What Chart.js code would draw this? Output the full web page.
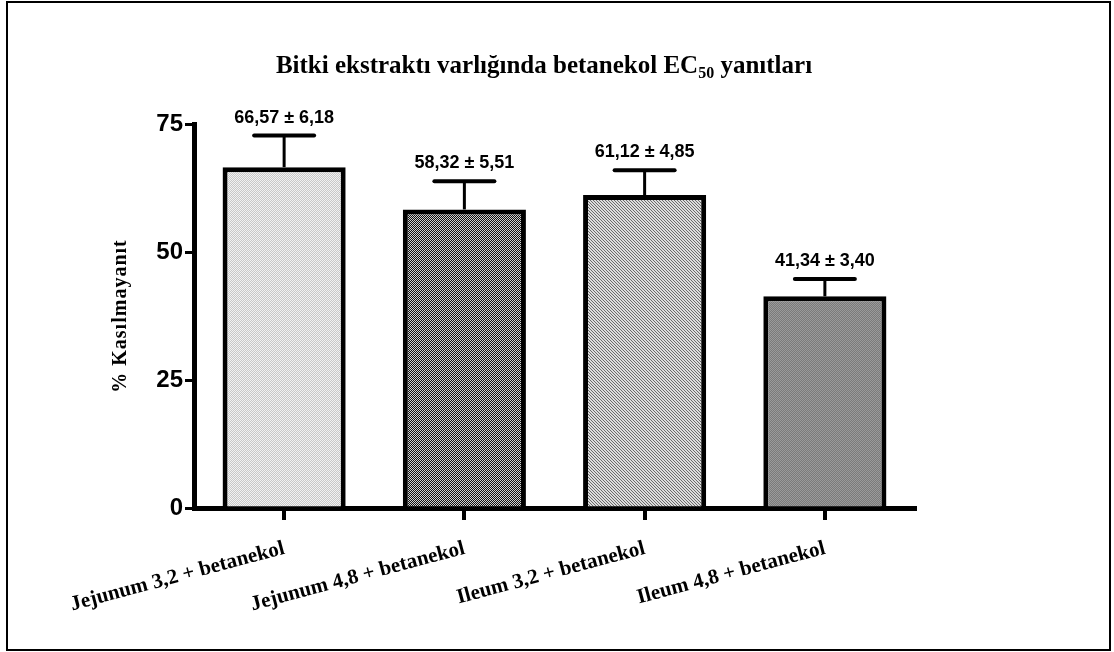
<!DOCTYPE html>
<html>
<head>
<meta charset="utf-8">
<script src="https://cdn.jsdelivr.net/npm/chart.js@4"></script>
<style>
  html, body { margin: 0; padding: 0; background: #fff; }
  #wrap { position: relative; width: 1114px; height: 652px; }
  #frame { position: absolute; left: 6px; top: 1px; width: 1105px; height: 650px;
           border: 2px solid #000; box-sizing: border-box; }
  canvas { position: absolute; left: 0; top: 0; }
</style>
</head>
<body>
<div id="wrap">
  <div id="frame"></div>
  <canvas id="c" width="1114" height="652"></canvas>
</div>
<script>
// Chart text
const titleMain = 'Bitki ekstraktı varlığında betanekol EC';
const titleSub = '50';
const titleEnd = ' yanıtları';
const yAxisTitle = '% Kasılmayanıt';

// Groups, means and SEM
const categories = [
  'Jejunum 3,2 + betanekol',
  'Jejunum 4,8 + betanekol',
  'Ileum 3,2 + betanekol',
  'Ileum 4,8 + betanekol'
];
const means = [66.57, 58.32, 61.12, 41.34];
const sem = [6.18, 5.51, 4.85, 3.40];
const yTicks = [0, 25, 50, 75];

// Small fill textures for the bars
function makePattern(size, painter) {
  const c = document.createElement('canvas');
  c.width = size; c.height = size;
  const g = c.getContext('2d');
  for (let y = 0; y < size; y++) {
    for (let x = 0; x < size; x++) {
      g.fillStyle = painter(x, y);
      g.fillRect(x, y, 1, 1);
    }
  }
  return g.createPattern(c, 'repeat');
}
const ctx = document.getElementById('c').getContext('2d');
const fills = [
  makePattern(2, (x, y) => ((x + y) % 2 ? '#c8c8c8' : '#f2f2f2')),
  makePattern(2, (x, y) => ((x + y) % 2 ? '#111111' : '#d0d0d0')),
  makePattern(3, (x, y) => (((x - y) % 3 + 3) % 3 === 0 ? '#6a6a6a' : '#dcdcdc')),
  makePattern(2, (x, y) => ((x + y) % 2 ? '#7a7a7a' : '#9a9a9a'))
];

const fmt = v => v.toFixed(2).replace('.', ',');

// Title with subscript, y-axis title, error bars and value labels
const decorations = {
  id: 'decorations',
  afterDatasetsDraw(chart) {
    const c = chart.ctx;
    const yScale = chart.scales.y;
    const meta = chart.getDatasetMeta(0);
    c.save();
    c.strokeStyle = '#000';
    c.fillStyle = '#000';
    meta.data.forEach((bar, i) => {
      const x = bar.x;
      const yBar = yScale.getPixelForValue(means[i]);
      const yTop = yScale.getPixelForValue(means[i] + sem[i]);
      c.lineCap = 'butt';
      c.lineWidth = 3;
      c.beginPath(); c.moveTo(x, yBar); c.lineTo(x, yTop); c.stroke();
      c.lineCap = 'round';
      c.lineWidth = 4;
      c.beginPath(); c.moveTo(x - 30, yTop); c.lineTo(x + 30, yTop); c.stroke();
      c.font = 'bold 18px "Liberation Sans", Arial, sans-serif';
      c.textAlign = 'center';
      c.textBaseline = 'alphabetic';
      c.fillText(fmt(means[i]) + ' ± ' + fmt(sem[i]), x, yTop - 13);
    });
    c.restore();
  },
  afterDraw(chart) {
    const c = chart.ctx;
    c.save();
    c.fillStyle = '#000';
    // main title
    const fMain = 'bold 25px "Liberation Serif", "Times New Roman", serif';
    const fSub = 'bold 16px "Liberation Serif", "Times New Roman", serif';
    c.font = fMain;
    const w1 = c.measureText(titleMain).width;
    const w3 = c.measureText(titleEnd).width;
    c.font = fSub;
    const w2 = c.measureText(titleSub).width;
    let x = 544 - (w1 + w2 + w3) / 2;
    const base = 73;
    c.textAlign = 'left';
    c.textBaseline = 'alphabetic';
    c.font = fMain; c.fillText(titleMain, x, base); x += w1;
    c.font = fSub; c.fillText(titleSub, x, base + 5); x += w2;
    c.font = fMain; c.fillText(titleEnd, x, base);
    // y-axis title
    const area = chart.chartArea;
    c.translate(121, (area.top + area.bottom) / 2);
    c.rotate(-Math.PI / 2);
    c.font = 'bold 20px "Liberation Serif", "Times New Roman", serif';
    if ('letterSpacing' in c) c.letterSpacing = '1px';
    c.textAlign = 'center';
    c.textBaseline = 'middle';
    c.fillText(yAxisTitle, 0, 0);
    c.restore();
  }
};

new Chart(ctx, {
  type: 'bar',
  data: {
    labels: categories,
    datasets: [{
      data: means,
      backgroundColor: fills,
      borderColor: '#000',
      borderWidth: 5,
      borderSkipped: 'bottom',
      barPercentage: 0.683,
      categoryPercentage: 1
    }]
  },
  options: {
    responsive: false,
    animation: false,
    events: [],
    layout: { padding: { top: 124, right: 199, bottom: 0, left: 0 } },
    plugins: { legend: { display: false }, tooltip: { enabled: false }, title: { display: false } },
    scales: {
      x: {
        type: 'category',
        afterFit(scale) { scale.height = 144; },
        border: { display: true, color: '#000', width: 5 },
        grid: { offset: false, drawOnChartArea: false, drawTicks: true, tickLength: 12, lineWidth: 4, color: '#000' },
        ticks: {
          color: '#000',
          autoSkip: false,
          minRotation: 15,
          maxRotation: 15,
          padding: 16,
          font: { family: '"Liberation Serif", "Times New Roman", serif', size: 21, weight: 'bold' }
        }
      },
      y: {
        min: 0,
        max: 75,
        afterFit(scale) { scale.width = 194; },
        afterBuildTicks(scale) { scale.ticks = yTicks.map(v => ({ value: v })); },
        border: { display: true, color: '#000', width: 5 },
        grid: { drawOnChartArea: false, drawTicks: true, tickLength: 9, lineWidth: 3, color: '#000' },
        ticks: {
          color: '#000',
          padding: 2,
          font: { family: '"Liberation Sans", Arial, sans-serif', size: 24, weight: 'bold' }
        }
      }
    }
  },
  plugins: [decorations]
});
</script>
</body>
</html>
